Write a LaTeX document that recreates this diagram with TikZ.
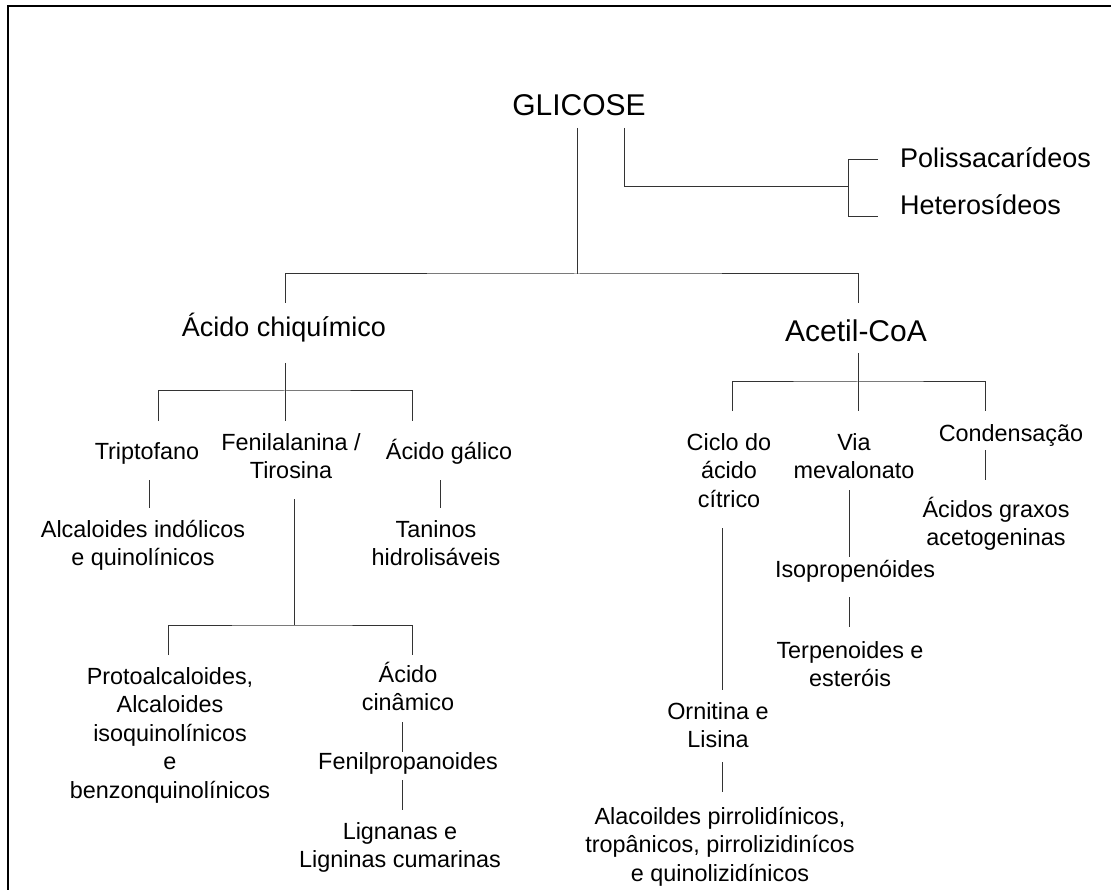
\documentclass[tikz,border=0pt]{standalone}
\usepackage{fontspec}
\setmainfont{Liberation Sans}
\newcommand{\tstr}{\rule{0pt}{0.95em}}
\tikzset{
  sm/.style={inner sep=0pt, anchor=north, align=center, font=\fontsize{23.4}{28.5}\selectfont},
  mid/.style={inner sep=0pt, anchor=north, align=center, font=\fontsize{27}{32}\selectfont},
  big/.style={inner sep=0pt, anchor=north, align=center, font=\fontsize{30}{36}\selectfont},
  conn/.style={draw=black!80, line width=1pt},
  frame/.style={draw=black, line width=2.3pt}
}
\begin{document}
\begin{tikzpicture}[x=1pt,y=-1pt]
\useasboundingbox (0,0) rectangle (1111,890);
% frame (cropped at right and bottom)
\coordinate (fBL) at (7.7,892);
\coordinate (fTL) at (7.7,6.2);
\coordinate (fTR) at (1113,6.2);
\draw[frame] (fBL) -- (fTL) -- (fTR);

% ---- nodes ----
\node[big] (glic) at (579,86.5) {\tstr GLICOSE};
\node[mid, anchor=north west] (poli) at (900,141.35) {\tstr Polissacarídeos};
\node[mid, anchor=north west] (hete) at (900,188.35) {\tstr Heterosídeos};

\node[mid] (chiq) at (284,310.35) {\tstr Ácido chiquímico};
\node[big] (acet) at (856,312.5) {\tstr Acetil-CoA};

\node[sm] (trip) at (147,436.8) {\tstr Triptofano};
\node[sm] (feni) at (291,427.8) {\tstr Fenilalanina /\\Tirosina};
\node[sm] (gali) at (449,436.8) {\tstr Ácido gálico};
\node[sm] (indo) at (143,514.8) {\tstr Alcaloides indólicos\\e quinolínicos};
\node[sm] (tani) at (436,514.8) {\tstr Taninos\\hidrolisáveis};
\node[sm] (prot) at (170,661.8) {\tstr Protoalcaloides,\\Alcaloides\\isoquinolínicos\\e\\benzonquinolínicos};
\node[sm] (cina) at (408,659.8) {\tstr Ácido\\cinâmico};
\node[sm] (fpro) at (408,746.8) {\tstr Fenilpropanoides};
\node[sm] (lign) at (400,816.8) {\tstr Lignanas e\\Ligninas cumarinas};

\node[sm] (cicl) at (729,427.8) {\tstr Ciclo do\\ácido\\cítrico};
\node[sm] (viam) at (854,427.8) {\tstr Via\\mevalonato};
\node[sm] (cond) at (1011,418.8) {\tstr Condensação};
\node[sm] (grax) at (996,494.8) {\tstr Ácidos graxos\\acetogeninas};
\node[sm] (isop) at (855,554.8) {\tstr Isopropenóides};
\node[sm] (terp) at (850,635.8) {\tstr Terpenoides e\\esteróis};
\node[sm] (orni) at (718,696.8) {\tstr Ornitina e\\Lisina};
\node[sm] (alac) at (720,801.8) {\tstr Alacoildes pirrolidínicos,\\tropânicos, pirrolizidinícos\\e quinolizidínicos};

% ---- connector points ----
\coordinate (g1) at (577,128);
\coordinate (gbar) at (577,274);
\coordinate (chiqT) at (285,303);
\coordinate (acetT) at (858,303);
\coordinate (g2) at (624,128);
\coordinate (g2c) at (624,187);
\coordinate (brk) at (848,187);
\coordinate (poliL) at (878,160);
\coordinate (heteL) at (878,217);

\coordinate (chiqB) at (285,363);
\coordinate (chiqBar) at (285,391);
\coordinate (tripT) at (158,421);
\coordinate (feniT) at (285,421);
\coordinate (galiT) at (412,421);
\coordinate (tripB) at (149,480);
\coordinate (indoT) at (149,508);
\coordinate (galiB) at (440,480);
\coordinate (taniT) at (440,508);
\coordinate (feniB) at (294,499);
\coordinate (feniBar) at (294,625);
\coordinate (protT) at (168,655);
\coordinate (cinaT) at (412,655);
\coordinate (cinaB) at (402,722);
\coordinate (fproT) at (402,752);
\coordinate (fproB) at (402,780);
\coordinate (lignT) at (402,810);

\coordinate (acetB) at (858,353);
\coordinate (acetBar) at (858,382);
\coordinate (ciclT) at (732,411);
\coordinate (viamT) at (858,411);
\coordinate (condT) at (985,411);
\coordinate (condB) at (985,450);
\coordinate (graxT) at (985,480);
\coordinate (viamB) at (849,490);
\coordinate (isopT) at (849,557);
\coordinate (isopB) at (849,597);
\coordinate (terpT) at (849,627);
\coordinate (ciclB) at (722,528);
\coordinate (orniT) at (722,690);
\coordinate (orniB) at (722,762);
\coordinate (alacT) at (722,792);

% ---- connectors ----
\draw[conn] (g1) -- (gbar);
\draw[conn] (chiqT) |- (gbar) -| (acetT);
\draw[conn] (g2) -- (g2c) -- (brk);
\draw[conn] (poliL) -| (brk) |- (heteL);

\draw[conn] (chiqB) -- (feniT);
\draw[conn] (tripT) |- (chiqBar) -| (galiT);
\draw[conn] (tripB) -- (indoT);
\draw[conn] (galiB) -- (taniT);
\draw[conn] (feniB) -- (feniBar);
\draw[conn] (protT) |- (feniBar) -| (cinaT);
\draw[conn] (cinaB) -- (fproT);
\draw[conn] (fproB) -- (lignT);

\draw[conn] (acetB) -- (viamT);
\draw[conn] (ciclT) |- (acetBar) -| (condT);
\draw[conn] (condB) -- (graxT);
\draw[conn] (viamB) -- (isopT);
\draw[conn] (isopB) -- (terpT);
\draw[conn] (ciclB) -- (orniT);
\draw[conn] (orniB) -- (alacT);
\end{tikzpicture}
\end{document}
